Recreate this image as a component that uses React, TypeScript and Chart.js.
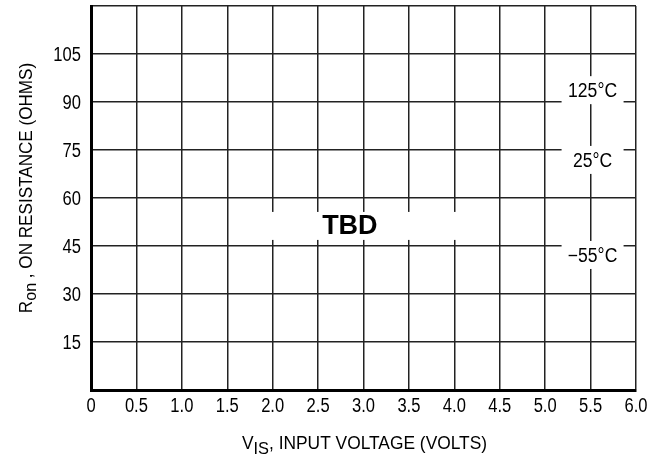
import React, { useEffect, useRef } from "react";
import { Chart, registerables } from "chart.js";

Chart.register(...registerables);

// ---- data ----
const xTickValues = [0, 0.5, 1.0, 1.5, 2.0, 2.5, 3.0, 3.5, 4.0, 4.5, 5.0, 5.5, 6.0];
const xTickLabels = ["0", "0.5", "1.0", "1.5", "2.0", "2.5", "3.0", "3.5", "4.0", "4.5", "5.0", "5.5", "6.0"];
const yTickValues = [0, 15, 30, 45, 60, 75, 90, 105, 120];
const yTickLabels = ["", "15", "30", "45", "60", "75", "90", "105", ""];
const tempLabels = ["125°C", "25°C", "−55°C"];
const tempLabelX = [5.5, 5.5, 5.5];
const tempLabelY = [93.7, 71.9, 42.2];
const noteText = "TBD";
const noteX = 2.85;
const noteY = 51.9;

const FAMILY = '"Liberation Sans", Arial, Helvetica, sans-serif';

function drawScaled(
  ctx: CanvasRenderingContext2D,
  text: string,
  x: number,
  y: number,
  font: string,
  align: "left" | "center" | "right",
  sx: number
) {
  ctx.save();
  ctx.font = font;
  ctx.textBaseline = "alphabetic";
  ctx.textAlign = align;
  ctx.translate(x, y);
  ctx.scale(sx, 1);
  ctx.fillText(text, 0, 0);
  ctx.restore();
}

const overlayPlugin = {
  id: "overlay",
  afterDraw(chart: any) {
    const { ctx, scales, chartArea } = chart;
    const x = scales.x;
    const y = scales.y;
    ctx.save();
    ctx.fillStyle = "#000";

    // tick labels (condensed face)
    const tickFont = `19.5px ${FAMILY}`;
    xTickValues.forEach((v, i) => {
      drawScaled(ctx, xTickLabels[i], x.getPixelForValue(v), 412, tickFont, "center", 0.85);
    });
    yTickValues.forEach((v, i) => {
      if (!yTickLabels[i]) return;
      drawScaled(ctx, yTickLabels[i], 81, y.getPixelForValue(v) + 7, tickFont, "right", 0.85);
    });

    // temperature labels with white backgrounds
    tempLabels.forEach((t, i) => {
      const cx = x.getPixelForValue(tempLabelX[i]);
      const cy = y.getPixelForValue(tempLabelY[i]);
      ctx.fillStyle = "#fff";
      ctx.fillRect(cx - 29, cy - 14, 62, 28);
      ctx.fillStyle = "#000";
      drawScaled(ctx, t, cx + 2, cy + 7, `19.5px ${FAMILY}`, "center", 0.9);
    });

    // TBD note
    {
      const cx = x.getPixelForValue(noteX);
      const cy = y.getPixelForValue(noteY);
      ctx.fillStyle = "#fff";
      ctx.fillRect(cx - 84, cy - 12, 192, 28);
      ctx.fillStyle = "#000";
      drawScaled(ctx, noteText, cx, cy + 10, `bold 27px ${FAMILY}`, "center", 1);
    }

    // x axis title with subscript
    {
      const sx = 0.965;
      const mainFont = `18px ${FAMILY}`;
      const subFont = `17px ${FAMILY}`;
      const p1 = "V";
      const sub = "IS";
      const p2 = ", INPUT VOLTAGE (VOLTS)";
      ctx.font = mainFont;
      const w1 = ctx.measureText(p1).width * sx;
      const w3 = ctx.measureText(p2).width * sx;
      ctx.font = subFont;
      const w2 = ctx.measureText(sub).width * sx;
      const total = w1 + w2 + w3;
      const cxm = (chartArea.left + chartArea.right) / 2 + 1;
      let px = cxm - total / 2;
      const base = 449;
      drawScaled(ctx, p1, px, base, mainFont, "left", sx);
      px += w1;
      drawScaled(ctx, sub, px, base + 5, subFont, "left", sx);
      px += w2;
      drawScaled(ctx, p2, px, base, mainFont, "left", sx);
    }

    // y axis title with subscript (rotated)
    {
      const sx = 0.95;
      const mainFont = `18px ${FAMILY}`;
      const subFont = `17px ${FAMILY}`;
      const p1 = "R";
      const sub = "on";
      const p2 = " , ON RESISTANCE (OHMS)";
      ctx.font = mainFont;
      const w1 = ctx.measureText(p1).width * sx;
      const w3 = ctx.measureText(p2).width * sx;
      ctx.font = subFont;
      const w2 = ctx.measureText(sub).width * sx;
      const total = w1 + w2 + w3;
      ctx.save();
      ctx.translate(32, 188);
      ctx.rotate(-Math.PI / 2);
      let px = -total / 2;
      drawScaled(ctx, p1, px, 0, mainFont, "left", sx);
      px += w1;
      drawScaled(ctx, sub, px, 4, subFont, "left", sx);
      px += w2;
      drawScaled(ctx, p2, px, 0, mainFont, "left", sx);
      ctx.restore();
    }

    ctx.restore();
  },
};

export default function App() {
  const ref = useRef<HTMLCanvasElement | null>(null);

  useEffect(() => {
    document.body.style.margin = "0";
    document.body.style.overflow = "hidden";
    const canvas = ref.current;
    if (!canvas) return;
    const chart = new Chart(canvas, {
      type: "scatter",
      data: { datasets: [{ data: [], showLine: false }] },
      options: {
        animation: false,
        responsive: false,
        maintainAspectRatio: false,
        layout: { padding: { top: 6, right: 16, left: 0, bottom: 0 } },
        plugins: {
          legend: { display: false },
          tooltip: { enabled: false },
          title: { display: false },
        },
        scales: {
          x: {
            type: "linear",
            min: 0,
            max: 6,
            afterBuildTicks: (s: any) => {
              s.ticks = xTickValues.map((v) => ({ value: v }));
            },
            afterFit: (s: any) => {
              s.height = 72;
            },
            ticks: { display: false },
            grid: { color: "#222", lineWidth: 1.5, drawTicks: false },
            border: { color: "#000", width: 3 },
          },
          y: {
            type: "linear",
            min: 0,
            max: 120,
            afterBuildTicks: (s: any) => {
              s.ticks = yTickValues.map((v) => ({ value: v }));
            },
            afterFit: (s: any) => {
              s.width = 91;
            },
            ticks: { display: false },
            grid: { color: "#222", lineWidth: 1.5, drawTicks: false },
            border: { color: "#000", width: 3 },
          },
        },
      },
      plugins: [overlayPlugin],
    } as any);
    return () => chart.destroy();
  }, []);

  return (
    <div style={{ width: 652, height: 462 }}>
      <canvas ref={ref} width={652} height={462} style={{ display: "block" }} />
    </div>
  );
}
